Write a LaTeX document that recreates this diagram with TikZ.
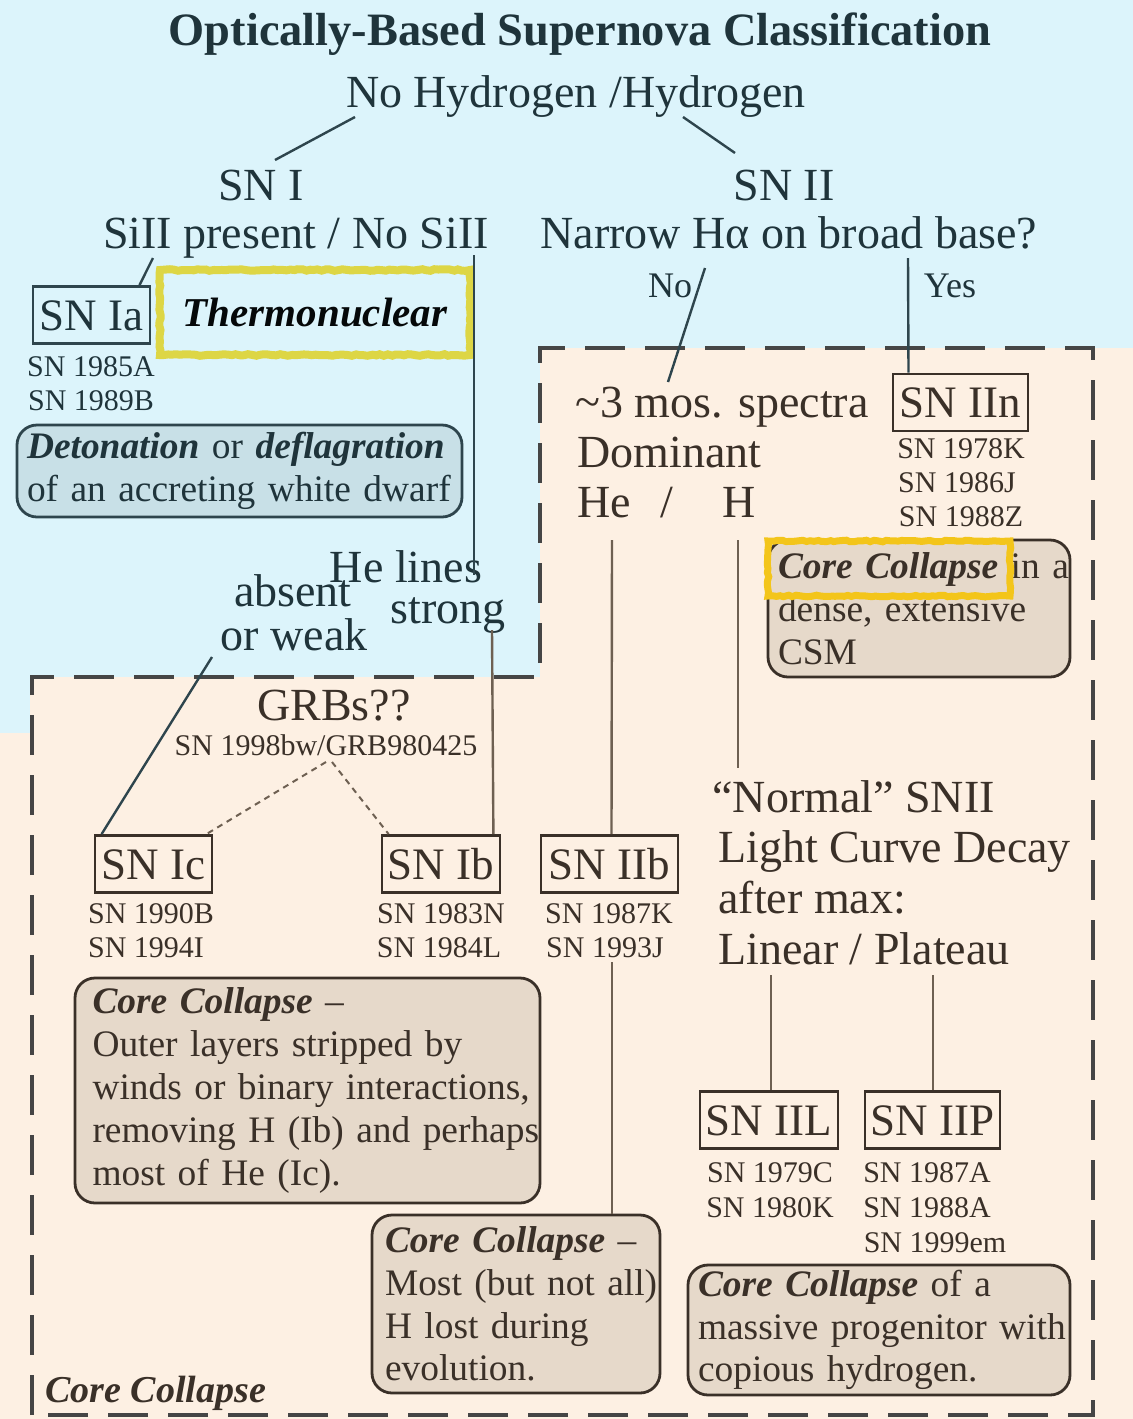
\documentclass[tikz,border=0pt]{standalone}
\usepackage{fontspec}
\setmainfont{Liberation Serif}
\usetikzlibrary{decorations.pathmorphing}
\definecolor{skybg}{HTML}{DCF4FB}
\definecolor{peachbg}{HTML}{FDF0E3}
\definecolor{inkB}{HTML}{1F343B}
\definecolor{inkP}{HTML}{3A3028}
\definecolor{lineB}{HTML}{2E454D}
\definecolor{lineP}{HTML}{6E6052}
\definecolor{fillB}{HTML}{C8E0E7}
\definecolor{fillP}{HTML}{E6D9CA}
\definecolor{dashC}{HTML}{454545}
\definecolor{hlA}{HTML}{DDD645}
\definecolor{hlB}{HTML}{F3C51A}
\begin{document}
\begin{tikzpicture}[x=0.5pt,y=-0.5pt,
  big/.style={font=\fontsize{23}{27.5}\selectfont, inner sep=0pt, anchor=base},
  small/.style={font=\fontsize{15}{17.5}\selectfont, inner sep=0pt, anchor=base},
  lbl/.style={font=\fontsize{18}{20}\selectfont, inner sep=0pt, anchor=base},
  snbox/.style={draw, line width=1.4pt, font=\fontsize{22.5}{27}\selectfont, inner xsep=0pt, inner ysep=0pt, minimum height=28.5pt, text height=15pt, text depth=0pt},
  infobox/.style={draw, line width=1.4pt, rounded corners=10pt, align=left, inner sep=0pt, font=\fontsize{18.7}{21.4}\selectfont},
  conn/.style={line width=1.2pt},
  bi/.style={font=\fontsize{19}{21.5}\selectfont\bfseries\itshape, inner sep=0pt, anchor=base west}
]
\useasboundingbox (0,0) rectangle (1133,1419);
% backgrounds
\fill[skybg] (0,0) rectangle (1133,1419);
\fill[peachbg] (540,348) -- (1133,348) -- (1133,1419) -- (0,1419) -- (0,733) -- (30,733) -- (30,677) -- (540,677) -- cycle;
\draw[dashC, line width=2pt, dash pattern=on 20pt off 10pt] (32,1415) -- (32,677) -- (540,677) -- (540,348) -- (1093,348) -- (1093,1415) -- cycle;

% ---- blue region text ----
\node[big, text=inkB, font=\fontsize{23.2}{27.5}\selectfont\bfseries] (title) at (580,45) {Optically-Based Supernova Classification};
\node[big, text=inkB] (root) at (576,107) {No Hydrogen /Hydrogen};
\node[big, text=inkB] (sn1) at (261,200) {SN I};
\node[big, text=inkB] (sn2) at (784,200) {SN II};
\node[big, text=inkB] (si) at (296,248) {SiII present / No SiII};
\node[big, text=inkB] (ha) at (789,248) {Narrow Hα on broad base?};
\node[lbl, text=inkB] (no) at (670,297) {No};
\node[lbl, text=inkB] (yes) at (950,297) {Yes};
\node[snbox, text=inkB, draw=lineB, minimum width=58.5pt] (snIa) at (91.5,315) {SN Ia};
\node[small, text=inkB] (ia1) at (91,376) {SN 1985A};
\node[small, text=inkB] (ia2) at (91,410) {SN 1989B};
\node[draw=hlA, line width=4pt, minimum width=155pt, minimum height=42.5pt, inner sep=0pt,
      font=\fontsize{20.5}{24}\selectfont\bfseries\itshape, text=black!85!inkB,
      decorate, decoration={random steps, segment length=2pt, amplitude=0.4pt}] (thermo) at (315,312.5) {Thermonuclear};
\node[infobox, draw=lineB, fill=fillB, text=inkB, minimum width=222.5pt, minimum height=46pt, text width=212.5pt] (deto) at (239.5,471)
  {\mbox{\textbf{\textit{Detonation}} or \textbf{\textit{deflagration}}}\\\mbox{of an accreting white dwarf}};
\node[big, text=inkB] (helines) at (406,582) {He lines};
\node[big, text=inkB, text depth=0pt] (absent) at (293,606) {absent};
\node[big, text=inkB, text height=10pt] (strong) at (448,623) {strong};
\node[big, text=inkB, text height=10pt] (orweak) at (294,650) {or weak};

% ---- peach region text ----
\node[big, text=inkP] (grb) at (334,720) {GRBs??};
\node[small, text=inkP, text height=9pt] (grbsn) at (326,755) {SN 1998bw/GRB980425};
\node[snbox, text=inkP, draw=inkP, minimum width=58.5pt] (snIc) at (153.5,864) {SN Ic};
\node[snbox, text=inkP, draw=inkP, minimum width=59pt] (snIb) at (441,864) {SN Ib};
\node[snbox, text=inkP, draw=inkP, minimum width=68.5pt] (snIIb) at (609.5,864) {SN IIb};
\node[small, text=inkP] (ic1) at (151,923) {SN 1990B};
\node[small, text=inkP] (ic2) at (146,957) {SN 1994I};
\node[small, text=inkP] (ib1) at (441,923) {SN 1983N};
\node[small, text=inkP] (ib2) at (439,957) {SN 1984L};
\node[small, text=inkP] (iib1) at (609,923) {SN 1987K};
\node[small, text=inkP] (iib2) at (605,957) {SN 1993J};
\node[infobox, draw=inkP, fill=fillP, text=inkP, minimum width=232.5pt, minimum height=112.5pt, text width=215pt] (ccL) at (307.5,1090.5)
  {\mbox{\textbf{\textit{Core Collapse}} --}\\\mbox{Outer layers stripped by}\\\mbox{winds or binary interactions,}\\\mbox{removing H (Ib) and perhaps}\\\mbox{most of He (Ic).}};

\node[big, text=inkP, anchor=base west] (mos) at (575,417) {\textasciitilde3 mos. spectra};
\node[big, text=inkP, anchor=base west] (dom) at (577,467) {Dominant};
\node[big, text=inkP, anchor=base west] (he) at (577,517) {He};
\node[big, text=inkP] (slash) at (667,517) {/};
\node[big, text=inkP, anchor=base west] (h) at (722,517) {H};
\node[snbox, text=inkP, draw=inkP, minimum width=67.5pt] (snIIn) at (960.5,402.5) {SN IIn};
\node[small, text=inkP] (iin1) at (961,458) {SN 1978K};
\node[small, text=inkP] (iin2) at (957,492) {SN 1986J};
\node[small, text=inkP] (iin3) at (961,526) {SN 1988Z};
\node[infobox, draw=inkP, fill=fillP, text=inkP, minimum width=151pt, minimum height=68.5pt, text width=141pt] (csm) at (919,608.5)
  {\mbox{\textbf{\textit{Core Collapse}} in a}\\\mbox{dense, extensive}\\\mbox{CSM}};
\draw[hlB, line width=3.5pt, decorate, decoration={random steps, segment length=2pt, amplitude=0.4pt}] (768,541) rectangle (1010,596);

\node[big, text=inkP, anchor=base west] (normal) at (712,812) {“Normal” SNII};
\node[big, text=inkP, anchor=base west] (lcd) at (718,862) {Light Curve Decay};
\node[big, text=inkP, anchor=base west] (amax) at (718,913) {after max:};
\node[big, text=inkP, anchor=base west] (linpl) at (718,964) {Linear / Plateau};
\node[snbox, text=inkP, draw=inkP, minimum width=69pt] (snIIL) at (769,1120) {SN IIL};
\node[snbox, text=inkP, draw=inkP, minimum width=67.5pt] (snIIP) at (932.5,1120) {SN IIP};
\node[small, text=inkP] (iil1) at (770,1182) {SN 1979C};
\node[small, text=inkP] (iil2) at (770,1217) {SN 1980K};
\node[small, text=inkP] (iip1) at (927,1182) {SN 1987A};
\node[small, text=inkP] (iip2) at (927,1217) {SN 1988A};
\node[small, text=inkP] (iip3) at (935,1252) {SN 1999em};
\node[infobox, draw=inkP, fill=fillP, text=inkP, minimum width=144pt, minimum height=89pt, text width=131pt] (ccM) at (516,1304)
  {\mbox{\textbf{\textit{Core Collapse}} --}\\\mbox{Most (but not all)}\\\mbox{H lost during}\\\mbox{evolution.}};
\node[infobox, draw=inkP, fill=fillP, text=inkP, minimum width=191pt, minimum height=65pt, text width=181pt] (ccR) at (879,1330)
  {\mbox{\textbf{\textit{Core Collapse}} of a}\\\mbox{massive progenitor with}\\\mbox{copious hydrogen.}};
\node[bi, text=inkP] (ccLabel) at (45,1402) {Core Collapse};

% ---- connectors ----
\coordinate (r1) at (355,117); \coordinate (s1) at (275,160);
\coordinate (r2) at (683,117); \coordinate (s2) at (735,153);
\coordinate (siA) at (153,258);
\coordinate (siB) at (474,255); \coordinate (heA) at (474,575);
\coordinate (noA) at (705,268); \coordinate (noB) at (668,382);
\coordinate (yesA) at (908,258);
\coordinate (owA) at (212,657);
\coordinate (stA) at (492,630);
\coordinate (gA) at (326,762); \coordinate (gB) at (332,762);
\coordinate (heB) at (612,540);
\coordinate (iibB) at (612,962);
\coordinate (hB) at (738,540); \coordinate (nB) at (738,768);
\coordinate (lA) at (771,975); \coordinate (pA) at (933,975);

\draw[conn, lineB] (r1) -- (s1);
\draw[conn, lineB] (r2) -- (s2);
\draw[conn, lineB] (siA) -- ([xshift=24pt]snIa.north);
\draw[conn, lineB] (siB) -- (heA);
\draw[conn, lineB] (noA) -- (noB);
\draw[conn, lineB] (yesA) -- ([xshift=-26pt]snIIn.north);
\draw[conn, lineB] (owA) -- ([xshift=4pt]snIc.north west);
\draw[conn, lineP] (stA) -- ([xshift=-4pt]snIb.north east);
\draw[conn, lineP, dashed, line width=1pt, dash pattern=on 3pt off 2.5pt] (gA) -- ([xshift=-3.5pt]snIc.north east);
\draw[conn, lineP, dashed, line width=1pt, dash pattern=on 3pt off 2.5pt] (gB) -- ([xshift=4pt]snIb.north west);
\draw[conn, lineP] (heB) -- ([xshift=1pt]snIIb.north);
\draw[conn, lineP] (iibB) -- ([xshift=48pt]ccM.north);
\draw[conn, lineP] (hB) -- (nB);
\draw[conn, lineP] (lA) -- ([xshift=1pt]snIIL.north);
\draw[conn, lineP] (pA) -- ([xshift=0.25pt]snIIP.north);
\end{tikzpicture}
\end{document}
